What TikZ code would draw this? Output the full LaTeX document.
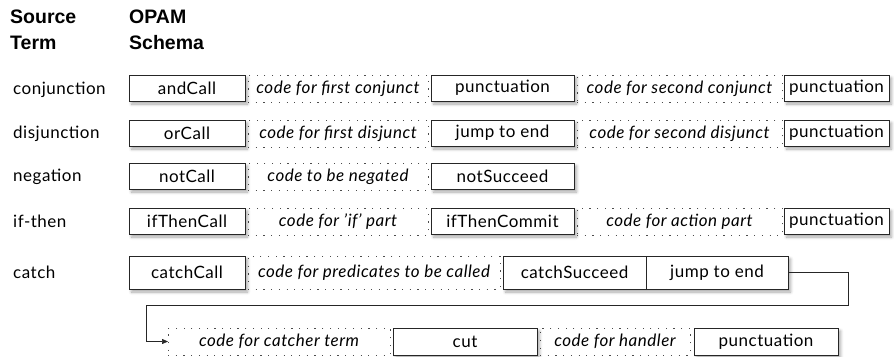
\documentclass[tikz,border=0pt]{standalone}
\usepackage{fontspec}
\setmainfont{Lato}[LetterSpace=3]
\newfontfamily\headfont{Liberation Sans}
\usetikzlibrary{arrows.meta,shadows.blur}

\tikzset{
  cell/.style={anchor=north west, inner sep=0pt, outer sep=0pt,
    font=\fontsize{17}{19}\selectfont},
  opbox/.style={cell, draw=black!85, line width=0.7pt, fill=white,
    blur shadow={shadow xshift=2.5pt, shadow yshift=-3pt,
      shadow blur radius=3pt, shadow blur steps=6, shadow opacity=35}},
  codebox/.style={cell, draw=black!70, line width=0.8pt,
    dash pattern=on 1.2pt off 6.5pt, font=\fontsize{17}{19}\selectfont\itshape},
  termlabel/.style={anchor=west, inner sep=0pt, font=\fontsize{17}{19}\selectfont},
  head/.style={anchor=north west, inner sep=0pt, align=left,
    font=\headfont\bfseries\fontsize{19.5}{25.5}\selectfont},
  link/.style={draw=black!85, line width=0.7pt},
}

\begin{document}
\begin{tikzpicture}[x=1pt, y=-1pt]
\useasboundingbox (0,0) rectangle (894,356);

% column headings
\node[head] (hsrc) at (10,10) {Source\\Term};
\node[head] (hopam) at (129,10) {OPAM\\Schema};

% source term labels
\node[termlabel] (tconj) at (13,90) {conjunction};
\node[termlabel] (tdisj) at (13,134) {disjunction};
\node[termlabel] (tneg)  at (13,177) {negation};
\node[termlabel] (tif)   at (13,221) {if-then};
\node[termlabel] (tcat)  at (13,272) {catch};

% conjunction
\node[codebox, minimum width=180pt, minimum height=27pt] (c1a) at (248,75) {code for first conjunct};
\node[codebox, minimum width=205pt, minimum height=27pt] (c1b) at (577,75) {code for second conjunct};
\node[opbox, minimum width=116pt, minimum height=26pt] (b1a) at (129,75) {andCall};
\node[opbox, minimum width=143pt, minimum height=26pt] (b1b) at (431,75) {punctuation};
\node[opbox, minimum width=105pt, minimum height=26pt] (b1c) at (784,75) {punctuation};

% disjunction
\node[codebox, minimum width=180pt, minimum height=27pt] (c2a) at (248,120) {code for first disjunct};
\node[codebox, minimum width=205pt, minimum height=27pt] (c2b) at (577,120) {code for second disjunct};
\node[opbox, minimum width=116pt, minimum height=26pt] (b2a) at (129,120) {orCall};
\node[opbox, minimum width=143pt, minimum height=26pt] (b2b) at (431,120) {jump to end};
\node[opbox, minimum width=105pt, minimum height=26pt] (b2c) at (784,120) {punctuation};

% negation
\node[codebox, minimum width=180pt, minimum height=27pt] (c3a) at (248,163) {code to be negated};
\node[opbox, minimum width=116pt, minimum height=26pt] (b3a) at (129,163) {notCall};
\node[opbox, minimum width=143pt, minimum height=26pt] (b3b) at (431,163) {notSucceed};

% if-then
\node[codebox, minimum width=180pt, minimum height=27pt] (c4a) at (248,208) {code for 'if' part};
\node[codebox, minimum width=205pt, minimum height=27pt] (c4b) at (577,208) {code for action part};
\node[opbox, minimum width=116pt, minimum height=26pt] (b4a) at (129,208) {ifThenCall};
\node[opbox, minimum width=143pt, minimum height=26pt] (b4b) at (431,208) {ifThenCommit};
\node[opbox, minimum width=105pt, minimum height=26pt] (b4c) at (784,208) {punctuation};

% catch
\node[codebox, minimum width=252pt, minimum height=33pt] (c5a) at (248,256) {code for predicates to be called};
\node[opbox, minimum width=116pt, minimum height=33pt] (b5a) at (129,256) {catchCall};
\node[opbox, minimum width=285pt, minimum height=33pt] (b5bg) at (503,256) {};
\node[cell, minimum width=143pt, minimum height=33pt] (b5b) at (503,256) {catchSucceed};
\node[cell, minimum width=142pt, minimum height=33pt] (b5c) at (646,256) {jump to end};
\draw[link] (b5b.north east) -- (b5b.south east);

% catch, continued: catcher and handler
\node[codebox, minimum width=222pt, minimum height=27pt] (c6a) at (168,328) {code for catcher term};
\node[codebox, minimum width=150pt, minimum height=27pt] (c6b) at (540,328) {code for handler};
\node[opbox, minimum width=144pt, minimum height=27pt] (b6a) at (393,328) {cut};
\node[opbox, minimum width=144pt, minimum height=27pt] (b6b) at (694,328) {punctuation};

% jump from the end of the catch code to the catcher
\coordinate (turnR) at (848,305);
\coordinate (turnL) at (146,305);
\draw[link, -{Triangle[length=6pt,width=5pt]}]
  (b5c.east) -| (turnR) -- (turnL) |- (c6a.west);
\end{tikzpicture}
\end{document}
